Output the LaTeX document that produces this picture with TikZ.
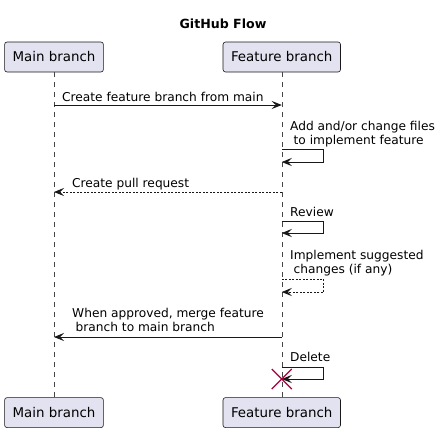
\documentclass[tikz,border=0pt]{standalone}
\usepackage{fontspec}
\setmainfont{DejaVu Sans}
\usetikzlibrary{arrows.meta,positioning}
\definecolor{partfill}{HTML}{E2E2F0}
\definecolor{partline}{HTML}{181818}
\definecolor{killred}{HTML}{A80036}
\tikzset{
participant/.style={draw=partline, fill=partfill, rounded corners=2.5pt, minimum height=30pt, inner xsep=8pt, font=\fontsize{13.4}{16}\selectfont, line width=0.6pt},
lifeline/.style={draw=partline!80, dash pattern=on 5pt off 5pt, line width=0.5pt},
msg/.style={draw=partline, line width=0.8pt, -{Stealth[length=10pt,width=8pt,inset=4pt]}},
reply/.style={msg, dash pattern=on 2pt off 1.5pt},
msgtext/.style={anchor=base west, inner sep=0pt, align=left, font=\fontsize{12.2}{13.5}\selectfont},
}
\begin{document}
\begin{tikzpicture}[x=1pt, y=-1pt]
\useasboundingbox (0,0) rectangle (447,431);
\node[font=\fontsize{12.6}{15}\selectfont\bfseries] (title) at (223,24) {GitHub Flow};
\node[participant] (mainTop) at (54,57) {Main branch};
\node[participant, right=119pt of mainTop] (featTop) {Feature branch};
\node[participant, below=325pt of mainTop] (mainBot) {Main branch};
\node[participant, below=325pt of featTop] (featBot) {Feature branch};
\draw[lifeline] (mainTop) -- (mainBot);
\draw[lifeline] (featTop) -- (featBot);
\foreach \n/\y in {create/105, addA/149, addB/162, pull/192, revA/221, revB/233,
  implA/279, implB/292, merge/337, delA/367, delB/379} {
  \coordinate (m-\n) at (mainTop |- 0,\y);
  \coordinate (f-\n) at (featTop |- 0,\y);
}
\draw[msg] (m-create) -- (f-create);
\node[msgtext] (t-create) at (62,101) {Create feature branch from main};
\draw[msg] (f-addA) -- ++(42,0) |- (f-addB);
\node[msgtext] (t-add) at (290,144) {Add and/or change files\\\hspace*{3.5pt}to implement feature};
\draw[reply] (f-pull) -- (m-pull);
\node[msgtext] (t-pull) at (72,187) {Create pull request};
\draw[msg] (f-revA) -- ++(42,0) |- (f-revB);
\node[msgtext] (t-rev) at (290,216) {Review};
\draw[reply] (f-implA) -- ++(42,0) |- (f-implB);
\node[msgtext] (t-impl) at (290,273) {Implement suggested\\\hspace*{3.5pt}changes (if any)};
\draw[msg] (f-merge) -- (m-merge);
\node[msgtext] (t-merge) at (72,331) {When approved, merge feature\\\hspace*{3.5pt}branch to main branch};
\draw[msg] (f-delA) -- ++(42,0) |- (f-delB);
\node[msgtext] (t-del) at (290,361) {Delete};
\draw[killred, line width=1.4pt] (f-delB) +(-10,-10) -- +(10,10) (f-delB) +(-10,10) -- +(10,-10);
\end{tikzpicture}
\end{document}
